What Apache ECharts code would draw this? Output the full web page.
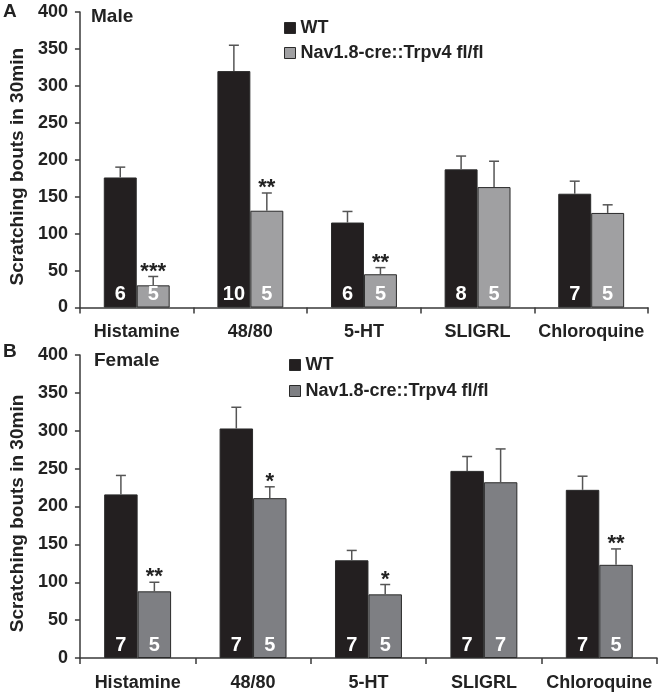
<!DOCTYPE html>
<html><head><meta charset="utf-8">
<script src="https://cdn.jsdelivr.net/npm/echarts@6/dist/echarts.min.js"></script>
<style>html,body{margin:0;padding:0;background:#fff}#c{width:660px;height:692px}</style>
</head><body><div id="c"></div>
<script>
const categories = ['Histamine', '48/80', '5-HT', 'SLIGRL', 'Chloroquine'];
const seriesNames = ['WT', 'Nav1.8-cre::Trpv4 fl/fl'];
const yMin = 0, yMax = 400, yStep = 50;

const maleWT = [176, 320, 115, 187, 154];
const maleWTSem = [14, 35, 15, 18, 17];
const maleKO = [30, 131, 45, 163, 128];
const maleKOSem = [12, 24, 9, 35, 11];
const maleWTn = [6, 10, 6, 8, 7];
const maleKOn = [5, 5, 5, 5, 5];
const maleWTStars = ['', '', '', '', ''];
const maleKOStars = ['***', '**', '**', '', ''];

const femaleWT = [216, 303, 129, 247, 222];
const femaleWTSem = [25, 28, 13, 19, 18];
const femaleKO = [88, 211, 84, 232, 123];
const femaleKOSem = [12, 15, 13, 44, 21];
const femaleWTn = [7, 7, 7, 7, 7];
const femaleKOn = [5, 5, 5, 7, 5];
const femaleWTStars = ['', '', '', '', ''];
const femaleKOStars = ['**', '*', '*', '', '**'];

const FONT = '"Liberation Sans", Arial, sans-serif';
const WT_COLOR = '#231f20';
const KO_COLOR_A = '#a0a0a2';
const KO_COLOR_B = '#7e7f83';
const LINE = '#3a3a3a';
const CAT_GAP = 0.42; // barCategoryGap
const HALF = (1 - CAT_GAP) / 4; // offset of bar center as fraction of band

const chart = echarts.init(document.getElementById('c'), null, {renderer: 'canvas'});

function yAxis(gi) {
  return {
    type: 'value', gridIndex: gi, min: yMin, max: yMax, interval: yStep,
    axisLine: {show: true, lineStyle: {color: LINE, width: 1.5}},
    axisTick: {show: true, length: 5, lineStyle: {color: LINE, width: 1.5}},
    splitLine: {show: false},
    axisLabel: {fontFamily: FONT, fontWeight: 'bold', fontSize: 18, color: '#222', margin: 12},
    name: 'Scratching bouts in 30min', nameLocation: 'middle', nameGap: 50,
    nameTextStyle: {fontFamily: FONT, fontWeight: 'bold', fontSize: 19, color: '#222', padding: [0, 14, 0, 0]}
  };
}
function xAxis(gi) {
  return {
    type: 'category', gridIndex: gi, data: categories, boundaryGap: true,
    axisLine: {show: true, lineStyle: {color: LINE, width: 1.5}},
    axisTick: {show: true, interval: 0, length: 6, lineStyle: {color: LINE, width: 1.5}},
    axisLabel: {interval: 0, fontFamily: FONT, fontWeight: 'bold', fontSize: 18, color: '#222', margin: 16}
  };
}
function barSeries(name, gi, values, ns, color) {
  return {
    type: 'bar', name: name, xAxisIndex: gi, yAxisIndex: gi, data: values,
    barGap: '0%', barCategoryGap: (CAT_GAP * 100) + '%',
    itemStyle: {color: color, borderColor: '#2a2a2a', borderWidth: 1},
    label: {show: true, position: 'insideBottom', distance: 3,
      formatter: p => String(ns[p.dataIndex]),
      fontFamily: FONT, fontWeight: 'bold', fontSize: 20, color: '#fff'},
    z: 2
  };
}
function errSeries(gi, values, sems, stars, sign) {
  return {
    type: 'custom', xAxisIndex: gi, yAxisIndex: gi, z: 5, silent: true,
    data: values.map((v, i) => [i, v, sems[i]]),
    renderItem: (params, api) => {
      const i = api.value(0), m = api.value(1), s = api.value(2);
      const base = api.coord([i, m]);
      const top = api.coord([i, m + s]);
      const band = api.size([1, 0])[0];
      const cx = base[0] + sign * band * HALF;
      const children = [
        {type: 'line', shape: {x1: cx, y1: base[1], x2: cx, y2: top[1]}, style: {stroke: '#555', lineWidth: 1.5}},
        {type: 'line', shape: {x1: cx - 5, y1: top[1], x2: cx + 5, y2: top[1]}, style: {stroke: '#555', lineWidth: 1.5}}
      ];
      const st = stars[params.dataIndex];
      if (st) {
        children.push({type: 'text', style: {text: st, x: cx, y: top[1] + 6, align: 'center', verticalAlign: 'bottom',
          font: 'bold 22px ' + FONT, fill: '#222'}});
      }
      return {type: 'group', children: children};
    }
  };
}

const legendText = {fontFamily: FONT, fontWeight: 'bold', fontSize: 18, color: '#222'};

chart.setOption({
  backgroundColor: '#fff',
  animation: false,
  grid: [
    {left: 68, top: 12, width: 580, height: 295.5},
    {left: 72, top: 355, width: 585, height: 305.7}
  ],
  xAxis: [xAxis(0), xAxis(1)],
  yAxis: [yAxis(0), yAxis(1)],
  legend: [
    {orient: 'vertical', left: 279, top: 14, itemWidth: 11, itemHeight: 11, itemGap: 7,
     icon: 'rect', textStyle: legendText, selectedMode: false,
     data: [{name: seriesNames[0], itemStyle: {color: WT_COLOR, borderColor: '#2a2a2a', borderWidth: 1}},
            {name: seriesNames[1], itemStyle: {color: KO_COLOR_A, borderColor: '#2a2a2a', borderWidth: 1}}]},
    {orient: 'vertical', left: 284, top: 351, itemWidth: 11, itemHeight: 11, itemGap: 8,
     icon: 'rect', textStyle: legendText, selectedMode: false,
     data: [{name: seriesNames[0], itemStyle: {color: WT_COLOR, borderColor: '#2a2a2a', borderWidth: 1}},
            {name: seriesNames[1], itemStyle: {color: KO_COLOR_B, borderColor: '#2a2a2a', borderWidth: 1}}]}
  ],
  graphic: [
    {type: 'text', left: 3, top: 2, style: {text: 'A', font: 'bold 19px ' + FONT, fill: '#222'}},
    {type: 'text', left: 91, top: 7, style: {text: 'Male', font: 'bold 19px ' + FONT, fill: '#222'}},
    {type: 'text', left: 3, top: 342, style: {text: 'B', font: 'bold 19px ' + FONT, fill: '#222'}},
    {type: 'text', left: 94, top: 351, style: {text: 'Female', font: 'bold 19px ' + FONT, fill: '#222'}}
  ],
  series: [
    barSeries(seriesNames[0], 0, maleWT, maleWTn, WT_COLOR),
    barSeries(seriesNames[1], 0, maleKO, maleKOn, KO_COLOR_A),
    errSeries(0, maleWT, maleWTSem, maleWTStars, -1),
    errSeries(0, maleKO, maleKOSem, maleKOStars, 1),
    barSeries(seriesNames[0], 1, femaleWT, femaleWTn, WT_COLOR),
    barSeries(seriesNames[1], 1, femaleKO, femaleKOn, KO_COLOR_B),
    errSeries(1, femaleWT, femaleWTSem, femaleWTStars, -1),
    errSeries(1, femaleKO, femaleKOSem, femaleKOStars, 1)
  ]
});
</script></body></html>
